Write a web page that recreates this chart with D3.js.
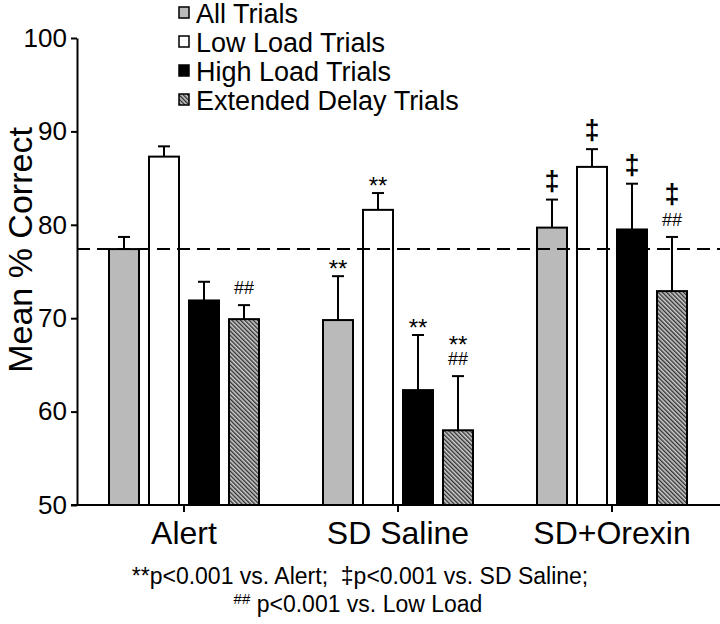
<!DOCTYPE html>
<html>
<head>
<meta charset="utf-8">
<script src="https://cdn.jsdelivr.net/npm/d3@7"></script>
<style>
  body { margin: 0; background: #fff; }
  text { font-family: "Liberation Sans", Arial, sans-serif; fill: #000; }
</style>
</head>
<body>
<script>
const width = 720;
const height = 624;

// data
const groups = ["Alert", "SD Saline", "SD+Orexin"];
const series = ["All Trials", "Low Load Trials", "High Load Trials", "Extended Delay Trials"];
const allTrials = [77.4, 69.8, 79.7];
const lowLoad = [87.3, 81.6, 86.2];
const highLoad = [71.9, 62.3, 79.5];
const extendedDelay = [69.9, 58.0, 72.9];
const allTrialsErr = [1.3, 4.7, 3.0];
const lowLoadErr = [1.1, 1.8, 1.9];
const highLoadErr = [2.0, 5.9, 4.9];
const extendedDelayErr = [1.5, 5.8, 5.8];
// significance marks, top line first
const allTrialsMarks = [[], ["**"], ["‡"]];
const lowLoadMarks = [[], ["**"], ["‡"]];
const highLoadMarks = [[], ["**"], ["‡"]];
const extendedDelayMarks = [["##"], ["**", "##"], ["‡", "##"]];
const yTicks = [50, 60, 70, 80, 90, 100];
const reference = 77.4;

const means = [allTrials, lowLoad, highLoad, extendedDelay];
const errs = [allTrialsErr, lowLoadErr, highLoadErr, extendedDelayErr];
const marks = [allTrialsMarks, lowLoadMarks, highLoadMarks, extendedDelayMarks];

const rows = [];
series.forEach((s, i) => groups.forEach((g, j) => {
    rows.push({ series: s, group: g, value: means[i][j], err: errs[i][j], marks: marks[i][j] });
}));

const svg = d3.select('body')
              .append('svg')
              .attr('width', width)
              .attr('height', height);

const defs = svg.append('defs');
const hatch = defs.append('pattern')
    .attr('id', 'hatch')
    .attr('patternUnits', 'userSpaceOnUse')
    .attr('width', 3)
    .attr('height', 3)
    .attr('patternTransform', 'rotate(-45)');
hatch.append('rect').attr('width', 3).attr('height', 3).attr('fill', '#d0d0d0');
hatch.append('rect').attr('width', 1.4).attr('height', 3).attr('fill', '#303030');

const fills = {
    "All Trials": '#bababa',
    "Low Load Trials": '#ffffff',
    "High Load Trials": '#000000',
    "Extended Delay Trials": 'url(#hatch)'
};

const x = d3.scaleBand().domain(groups).range([77, 719]);
const xi = d3.scaleBand().domain(series).range([-80, 80]).paddingInner(0.25).paddingOuter(0.125);
const y = d3.scaleLinear().domain([50, 100]).range([505, 38]);

// y axis
const yAxis = svg.append('g')
    .attr('transform', 'translate(77,0)')
    .call(d3.axisLeft(y).tickValues(yTicks).tickSize(6).tickPadding(4).tickSizeOuter(0));
yAxis.select('.domain').attr('stroke-width', 2);
yAxis.selectAll('.tick line').attr('stroke-width', 2);
yAxis.selectAll('.tick text').style('font-size', '26px').attr('font-family', null);

svg.append('text')
    .attr('transform', 'translate(32,250) rotate(-90)')
    .attr('text-anchor', 'middle')
    .style('font-size', '34px')
    .text('Mean % Correct');

// bars
const bars = svg.append('g');
bars.selectAll('rect')
    .data(rows)
    .join('rect')
        .attr('x', d => x(d.group) + x.bandwidth() / 2 + xi(d.series))
        .attr('y', d => y(d.value))
        .attr('width', xi.bandwidth())
        .attr('height', d => y(50) - y(d.value))
        .attr('fill', d => fills[d.series])
        .attr('stroke', '#000')
        .attr('stroke-width', 2);

const cx = d => x(d.group) + x.bandwidth() / 2 + xi(d.series) + xi.bandwidth() / 2;

// error bars (upper only)
const eb = svg.append('g').attr('stroke', '#000').attr('stroke-width', 2);
eb.selectAll('line.v')
    .data(rows)
    .join('line')
        .attr('class', 'v')
        .attr('x1', cx).attr('x2', cx)
        .attr('y1', d => y(d.value)).attr('y2', d => y(d.value + d.err));
eb.selectAll('line.c')
    .data(rows)
    .join('line')
        .attr('class', 'c')
        .attr('x1', d => cx(d) - 6).attr('x2', d => cx(d) + 6)
        .attr('y1', d => y(d.value + d.err)).attr('y2', d => y(d.value + d.err));

// significance marks
const markRows = [];
rows.forEach(d => {
    const n = d.marks.length;
    d.marks.forEach((m, k) => markRows.push({ row: d, mark: m, level: n - 1 - k }));
});
svg.append('g')
    .selectAll('text')
    .data(markRows)
    .join('text')
        .attr('x', d => cx(d.row))
        .attr('y', d => y(d.row.value + d.row.err) - 11 - d.level * 24)
        .attr('text-anchor', 'middle')
        .style('font-size', d => d.mark === '‡' ? '27px' : (d.mark === '**' ? '24px' : '18px'))
        .style('font-weight', d => d.mark === '‡' ? 'bold' : 'normal')
        .attr('dy', d => d.mark === '**' ? '0.5em' : (d.mark === '‡' ? '0.05em' : '0'))
        .text(d => d.mark);

// dashed reference line
svg.append('line')
    .attr('x1', 77).attr('x2', width)
    .attr('y1', y(reference)).attr('y2', y(reference))
    .attr('stroke', '#000')
    .attr('stroke-width', 2)
    .attr('stroke-dasharray', '13,7');

// x axis
const xAxis = svg.append('g')
    .attr('transform', `translate(0,${y(50)})`);
xAxis.append('line')
    .attr('x1', 71).attr('x2', width)
    .attr('stroke', '#000').attr('stroke-width', 2);
xAxis.selectAll('line.tick')
    .data(groups)
    .join('line')
        .attr('class', 'tick')
        .attr('x1', d => x(d) + x.bandwidth() / 2).attr('x2', d => x(d) + x.bandwidth() / 2)
        .attr('y1', 0).attr('y2', 7)
        .attr('stroke', '#000').attr('stroke-width', 2);
xAxis.selectAll('text')
    .data(groups)
    .join('text')
        .attr('x', d => x(d) + x.bandwidth() / 2)
        .attr('y', 39)
        .attr('text-anchor', 'middle')
        .style('font-size', '32px')
        .text(d => d);

// legend
const legend = svg.append('g').attr('transform', 'translate(179,0)');
const li = legend.selectAll('g')
    .data(series)
    .join('g')
        .attr('transform', (d, i) => `translate(0,${13 + i * 29})`);
li.append('rect')
    .attr('x', 0).attr('y', -6)
    .attr('width', 10).attr('height', 11)
    .attr('fill', d => fills[d])
    .attr('stroke', '#000')
    .attr('stroke-width', 1.5);
li.append('text')
    .attr('x', 17)
    .attr('dy', '0.36em')
    .style('font-size', '27px')
    .text(d => d);

// footnote
const foot = svg.append('g').style('font-size', '23px');
foot.append('text')
    .attr('x', 360).attr('y', 584)
    .attr('text-anchor', 'middle')
    .attr('xml:space', 'preserve')
    .text('**p<0.001 vs. Alert;  ‡p<0.001 vs. SD Saline;');
const f2 = foot.append('text')
    .attr('x', 358).attr('y', 612)
    .attr('text-anchor', 'middle');
f2.append('tspan').style('font-size', '15px').attr('dy', '-8').text('##');
f2.append('tspan').attr('dy', '8').text(' p<0.001 vs. Low Load');
</script>
</body>
</html>
